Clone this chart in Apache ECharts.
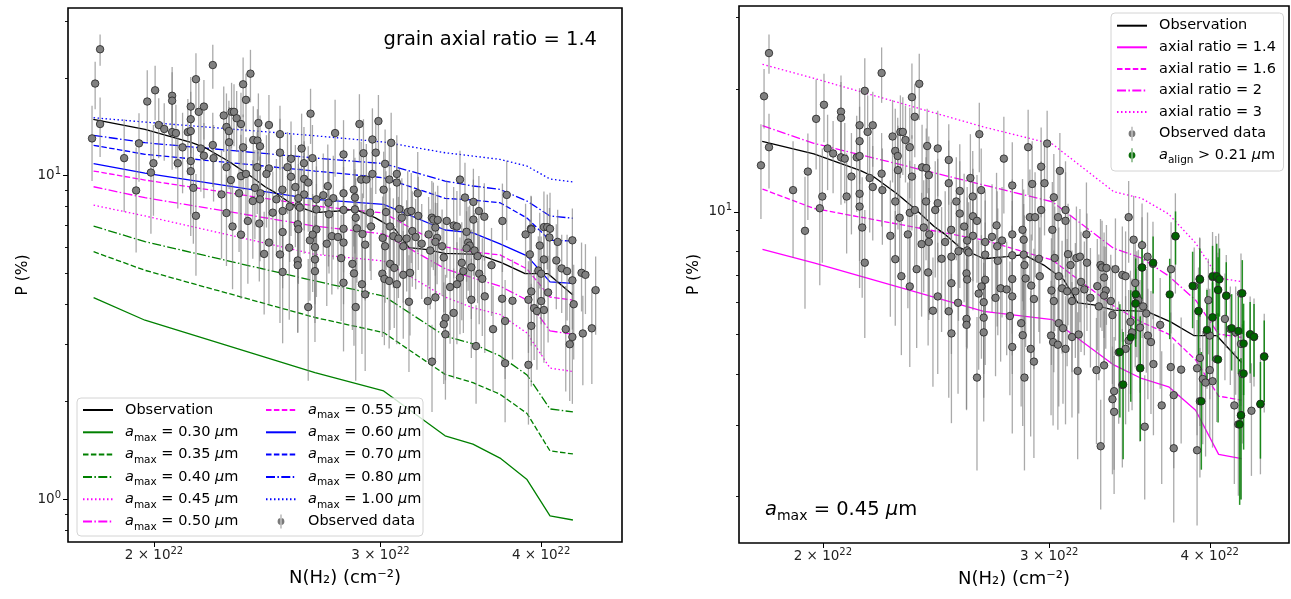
<!DOCTYPE html>
<html><head><meta charset="utf-8">
<script src="https://cdn.jsdelivr.net/npm/echarts@6/dist/echarts.min.js"></script>
<style>html,body{margin:0;padding:0;background:#fff}#chart{width:1291px;height:599px}</style>
</head><body><div id="chart"></div>
<script>
const FONT = 'DejaVu Sans';

// ---------- tick labels ----------
const xTickValues = [2, 3, 4];
const xTickLabels = ['2 × 10^22', '3 × 10^22', '4 × 10^22'];
const yMajorTicksL = [1, 10];
const yMajorLabelsL = ['10^0', '10^1'];
const yMinorTicksL = [0.8, 0.9, 2, 3, 4, 5, 6, 7, 8, 9, 20, 30];
const yMajorTicksR = [10];
const yMajorLabelsR = ['10^1'];
const yMinorTicksR = [2, 3, 4, 5, 6, 7, 8, 9, 20, 30];

// ---------- observation running curve (N in 1e22 cm^-2, P in %) ----------
const obsLineN = [1.794,1.968,2.140,2.192,2.284,2.367,2.440,2.485,2.561,2.668,2.780,2.867,2.971,3.080,3.158,3.250,3.368,3.573,3.729,3.887,4.050,4.234];
const obsLineP = [14.89,13.87,12.61,12.17,11.07,10.07,9.22,8.84,8.14,7.67,7.76,7.85,7.40,6.81,5.98,5.91,5.74,5.70,5.37,4.97,4.97,4.27];

// ---------- model curves ----------
const modelN = [1.795,1.968,2.668,3.017,3.368,3.540,3.716,3.900,4.064,4.234];
const amax030 = [4.19,3.57,2.46,2.16,1.57,1.48,1.34,1.15,0.888,0.863];
const amax035 = [5.81,5.09,3.64,3.27,2.43,2.29,2.11,1.84,1.41,1.38];
const amax040 = [6.97,6.24,4.72,4.24,3.19,3.02,2.77,2.42,1.90,1.86];
const amax045 = [8.09,7.49,5.70,5.44,4.21,3.90,3.72,3.26,2.54,2.48];
const amax050 = [9.22,8.53,6.97,6.59,5.15,4.82,4.55,4.12,3.31,3.23];
const amax055 = [10.31,9.67,8.04,7.65,6.01,5.80,5.68,5.14,4.21,4.12];
const amax060 = [10.86,10.16,8.43,8.14,6.78,6.64,6.14,5.64,4.69,4.64];
const amax070 = [12.38,11.61,10.31,9.83,8.49,8.39,8.23,7.38,6.30,6.27];
const amax080 = [13.29,12.61,11.31,10.87,9.60,9.27,9.05,8.33,7.49,7.37];
const amax100 = [15.06,14.60,13.25,12.67,11.74,11.47,11.20,10.68,9.74,9.54];
// right panel (a_max = 0.45 um) for different axial ratios
const axial14 = amax045;
const axial16 = [11.37,10.19,8.52,7.61,5.87,5.36,5.01,4.33,3.53,3.45];
const axial20 = [16.26,14.72,11.63,10.58,8.13,7.70,6.96,6.07,5.01,4.92];
const axial30 = [23.0,21.25,16.14,14.66,11.20,10.79,9.87,8.38,6.88,6.74];

// ---------- observed data: [N (1e22 cm^-2), P (%), error (%)] ----------
const observedPoints = [
[1.816,24.5,2.7],[1.80,19.2,3.2],[1.816,14.4,3.0],[1.79,13.0,3.4],[1.896,11.3,3.6],[1.947,12.55,3.0],
[1.937,8.98,3.2],[1.976,16.9,4.2],[2.004,18.3,3.5],[2.017,14.3,3.0],[2.037,13.9,2.8],[1.998,10.9,3.4],
[1.989,10.2,3.6],[2.066,17.6,4.0],[2.066,17.0,3.8],[2.066,13.6,3.2],[2.08,13.5,3.0],[2.087,10.9,3.0],
[2.105,12.2,3.4],[2.125,13.6,3.6],[2.136,16.3,3.8],[2.136,14.9,3.2],[2.136,11.07,3.5],[2.136,10.3,3.8],
[2.146,9.15,3.0],[2.136,13.7,3.0],[2.156,19.8,4.0],[2.167,15.7,3.6],[2.187,16.3,3.4],[2.175,12.1,3.2],
[2.187,11.5,3.0],[2.156,7.5,2.6],[2.222,21.9,3.4],[2.222,12.4,3.2],[2.225,11.3,3.0],[2.257,8.73,3.2],
[2.266,15.3,3.5],[2.277,14.1,3.8],[2.287,13.7,3.3],[2.298,15.7,3.6],[2.308,15.7,3.4],[2.319,15.0,3.2],
[2.337,14.4,3.6],[2.346,19.1,4.0],[2.358,17.1,3.5],[2.377,20.6,3.8],[2.288,12.65,3.6],[2.277,10.6,3.0],
[2.295,9.67,2.8],[2.329,8.8,3.0],[2.337,9.94,3.4],[2.358,10.1,3.0],[2.346,12.2,3.2],[2.389,12.85,3.5],
[2.407,12.8,3.2],[2.406,10.6,3.0],[2.396,9.15,2.8],[2.42,8.8,3.2],[2.418,8.43,3.0],[2.387,8.33,2.8],
[2.277,7.65,2.4],[2.366,7.23,2.6],[2.302,6.95,2.5],[2.415,7.1,2.4],[2.411,14.5,3.4],
[2.647,15.5,3.0],[2.457,14.3,3.4],[2.506,13.4,3.0],[2.418,12.3,3.0],[2.506,11.75,3.2],[2.605,12.1,3.4],
[2.656,11.3,3.0],[2.616,10.9,3.2],[2.556,11.25,3.4],[2.457,10.5,3.0],[2.446,10.1,3.2],[2.540,10.6,3.0],
[2.556,9.9,3.4],[2.617,9.75,3.0],[2.636,9.5,2.8],[2.576,9.2,3.2],[2.517,9.03,3.0],[2.617,8.73,3.0],
[2.49,8.43,2.8],[2.59,8.5,3.0],[2.73,9.26,3.2],[2.708,8.68,3.0],[2.675,8.43,2.8],[2.757,8.5,3.0],
[2.808,8.8,3.2],[2.86,9.03,3.0],[2.866,8.54,2.8],[2.766,13.5,3.6],[2.808,11.6,3.2],[2.889,14.4,3.4],
[2.989,14.7,3.0],[2.957,12.9,3.2],[3.058,12.6,3.0],[2.91,11.7,3.2],[2.975,11.75,3.0],[2.898,9.7,3.0],
[2.957,10.1,3.2],[2.925,9.7,2.8],[3.025,10.85,3.0],[3.089,10.1,3.2],[3.048,9.7,2.8],[3.089,9.5,3.0],
[3.017,9.03,2.8],[3.207,8.8,3.0],[2.59,8.04,2.8],[2.597,7.95,2.6],[2.474,7.67,2.6],[2.518,7.76,2.8],
[2.55,8.0,2.6],[2.675,7.85,2.8],[2.733,8.23,3.0],[2.808,7.82,2.8],[2.866,7.85,2.6],[2.736,7.58,2.6],
[2.87,7.4,2.4],[2.945,7.67,2.6],[2.808,6.84,2.4],[2.675,6.81,2.6],[2.587,7.06,2.4],[3.03,7.7,2.6],
[3.117,7.4,2.4],[3.15,7.7,2.6],[3.17,7.76,2.4],[3.103,7.87,2.6],[3.21,7.5,2.4],[3.289,7.4,2.2],
[3.459,9.7,2.2],[3.49,8.54,2.4],[3.543,8.28,2.2],[3.761,8.7,2.4],[3.578,7.76,2.2],[3.613,7.45,2.0],
[3.543,7.3,2.4],[3.732,7.23,2.2],[3.298,7.3,2.2],[3.324,7.28,2.0],[3.378,7.23,2.4],[3.42,7.0,2.2],
[3.44,6.95,2.0],[3.928,6.85,1.8],[4.02,6.92,2.0],[4.044,6.92,1.8],[4.064,6.84,2.0],
[3.31,6.9,2.0],[3.27,6.57,2.0],[3.32,6.41,1.8],[3.31,6.23,2.0],[3.35,6.04,1.8],[3.279,5.86,2.0],
[3.36,5.58,1.8],[3.50,6.69,2.0],[3.51,6.2,1.8],[3.52,6.07,2.0],[3.50,5.95,1.8],[3.55,5.86,1.8],
[3.57,5.63,1.6],[3.47,5.37,1.8],[3.53,5.2,1.6],[3.48,5.06,1.8],[3.459,4.83,1.6],[3.44,4.61,1.6],
[3.398,4.52,1.5],[3.58,4.97,1.5],[3.60,4.79,1.6],[3.66,5.28,1.6],[3.616,4.23,1.4],[3.53,4.13,1.4],
[3.73,4.16,1.5],[3.80,4.1,1.4],[3.265,4.09,1.4],[3.31,4.2,1.5],[3.42,3.76,1.4],[3.37,3.63,1.3],
[3.36,3.47,1.2],[3.37,3.23,1.2],[3.75,3.55,1.2],[3.67,3.35,1.2],[3.56,2.97,1.0],[3.29,2.66,0.8],
[3.75,2.63,0.9],[3.91,2.6,0.9],[3.89,6.57,1.6],[3.93,6.81,1.8],[3.99,6.07,1.6],[3.92,5.70,1.6],
[4.02,5.5,1.5],[4.11,5.46,1.6],[3.98,5.08,1.4],[4.0,4.97,1.5],[4.15,5.16,1.4],[4.19,5.06,1.5],
[4.23,6.3,1.6],[4.12,6.23,1.6],[4.06,6.43,1.5],[4.23,4.74,1.4],[4.30,5.0,1.2],[4.33,4.93,1.2],
[4.41,4.42,1.2],[4.05,4.35,1.3],[3.93,4.38,1.4],[4.0,4.09,1.3],[4.02,3.84,1.2],[3.91,4.13,1.3],
[3.95,3.89,1.2],[3.97,3.81,1.3],[3.93,3.43,1.2],[4.18,3.35,1.2],[4.23,3.17,1.2],[4.21,3.01,1.0],
[4.31,3.25,1.0],[4.38,3.37,1.1],[4.24,4.0,1.3],
[2.457,6.2,2.2],[2.436,5.72,2.0],[2.506,5.7,2.2],[2.548,5.98,2.4],[2.518,6.68,2.2],[2.518,5.03,2.0],
[2.587,5.46,2.2],[2.587,5.28,2.0],[2.59,6.82,2.2],[2.644,6.3,2.2],[2.668,6.0,2.0],[2.668,5.5,2.0],
[2.668,5.06,2.0],[2.657,6.56,2.2],[2.725,6.15,2.2],[2.75,6.49,2.2],[2.78,6.45,2.0],[2.808,6.2,2.2],
[2.796,5.55,2.0],[2.853,5.33,2.0],[2.861,4.98,2.0],[2.808,4.66,1.8],[2.876,6.86,2.2],[2.905,6.59,2.2],
[2.919,6.11,2.0],[2.902,4.61,1.8],[2.919,4.29,1.8],[2.87,3.92,1.6],[2.636,3.92,1.6],[2.95,6.95,2.2],
[3.012,6.41,2.2],[3.025,6.04,2.0],[3.052,6.95,2.2],[3.07,6.49,2.0],[3.098,6.38,2.2],[3.144,6.38,2.0],
[3.125,6.04,2.0],[3.176,6.73,2.2],[3.195,6.45,2.0],[3.23,6.15,2.0],[3.052,5.33,2.0],[3.075,5.18,1.8],
[3.01,4.97,1.8],[3.021,4.79,1.8],[3.047,4.72,1.8],[3.089,4.61,1.6],[3.125,4.93,1.8],[3.163,5.0,1.8],
[3.157,4.07,1.6],[2.337,6.56,2.4]
];

// ---------- grains with a_align > 0.21 um: [N, P, error] ----------
const alignedPoints = [
[3.762,8.72,1.3],[3.543,7.30,1.2],[3.614,7.50,1.2],[3.503,6.28,1.4],[3.503,5.96,1.3],[3.472,4.92,1.5],
[3.405,4.53,1.4],[3.425,3.77,1.3],[3.532,4.14,1.4],[3.723,6.27,1.4],[3.879,6.58,1.4],[3.93,6.83,1.3],
[3.92,5.71,1.3],[4.02,5.51,1.2],[3.98,5.13,1.3],[4.02,6.95,1.3],[4.05,6.95,1.4],[4.07,6.83,1.3],
[4.06,6.43,1.3],[4.12,6.22,1.3],[4.16,5.18,1.1],[4.21,5.10,1.1],[4.24,6.31,1.3],[4.25,4.75,1.2],
[4.25,4.01,1.4],[4.06,4.34,1.3],[3.94,3.43,1.1],[4.23,3.17,1.2],[4.22,3.01,1.1],[4.30,5.01,1.0],
[4.33,4.94,1.0],[4.41,4.41,1.0],[4.38,3.38,0.9]
];

// ---------- helpers ----------
const DASH = { solid: 'solid', dashed: [5.5, 2.4], dashdot: [9, 2.4, 1.5, 2.4], dotted: [1.5, 2.5] };
function pairs(xs, ys) { return xs.map((x, i) => [x, ys[i]]); }
function lineSeries(name, xs, ys, color, dash, xi, yi) {
  return { name, type: 'line', xAxisIndex: xi, yAxisIndex: yi, data: pairs(xs, ys),
    symbol: 'none', showSymbol: false, z: 2, silent: true,
    lineStyle: { color, width: 1.3, type: DASH[dash] }, itemStyle: { color } };
}
function errorSeries(name, data, color, width, xi, yi) {
  return { name, type: 'custom', xAxisIndex: xi, yAxisIndex: yi, data, clip: true, z: 3, silent: true,
    encode: { x: 0, y: 1 },
    renderItem: function (params, api) {
      const n = api.value(0), p = api.value(1), e = api.value(2);
      const lo = p - e > 0 ? p - e : 0.01;
      const a = api.coord([n, p + e]);
      const b = api.coord([n, lo]);
      return { type: 'line', shape: { x1: a[0], y1: a[1], x2: b[0], y2: b[1] },
        style: { stroke: color, lineWidth: width } };
    } };
}
function scatterSeries(name, data, color, xi, yi) {
  return { name, type: 'scatter', xAxisIndex: xi, yAxisIndex: yi, data, symbol: 'circle', symbolSize: 7.5,
    z: 4, silent: true, itemStyle: { color, borderColor: '#222', borderWidth: 0.8, opacity: 1 } };
}
function richStyles(lh, fs, subFs, subLh) {
  return {
    n: { fontFamily: FONT, fontSize: fs, color: '#000', lineHeight: lh },
    it: { fontFamily: FONT, fontSize: fs, fontStyle: 'italic', color: '#000', lineHeight: lh },
    sub: { fontFamily: FONT, fontSize: subFs, color: '#000', lineHeight: subLh, verticalAlign: 'bottom' }
  };
}
function mathName(name) {
  const m = name.match(/^a_(\w+) ([=>]) ([\d.]+) μm$/);
  if (m) return '{it|a}{sub|' + m[1] + '}{n| ' + m[2] + ' ' + m[3] + ' }{it|μ}{n|m}';
  return '{n|' + name + '}';
}
function supLabel(s) { const parts = s.split('^'); return '{n|' + parts[0] + '}{sup|' + parts[1] + '}'; }
const TICK_RICH = {
  n: { fontFamily: FONT, fontSize: 13.5, color: '#222', lineHeight: 18 },
  sup: { fontFamily: FONT, fontSize: 10, color: '#222', lineHeight: 10, verticalAlign: 'top' }
};
const ERR_ICON = 'path://M14.6,0L15.4,0L15.4,14L14.6,14Z M11.6,7A3.4,3.4 0 1,0 18.4,7A3.4,3.4 0 1,0 11.6,7Z M0,0L0.01,0L0.01,0.01Z M30,14L29.99,14L29.99,13.99Z';

function xAxisCfg(grid, min, max) {
  return { type: 'log', logBase: 10, gridIndex: grid, min, max,
    axisLine: { show: false }, splitLine: { show: false },
    axisTick: { show: true, customValues: xTickValues, length: 5, lineStyle: { color: '#000', width: 1 } },
    axisLabel: { show: true, customValues: xTickValues, margin: 4, rich: TICK_RICH,
      formatter: v => { const i = xTickValues.findIndex(t => Math.abs(t - v) < 1e-6); return i >= 0 ? supLabel(xTickLabels[i]) : ''; } },
    name: 'N(H₂) (cm⁻²)', nameLocation: 'middle', nameGap: 27,
    nameTextStyle: { fontFamily: FONT, fontSize: 18, color: '#000' } };
}
function yMajorCfg(grid, min, max, ticks, labels) {
  return { type: 'log', logBase: 10, gridIndex: grid, min, max, position: 'left',
    axisLine: { show: false }, splitLine: { show: false },
    axisTick: { show: true, customValues: ticks, length: 5, lineStyle: { color: '#000', width: 1 } },
    axisLabel: { show: true, customValues: ticks, margin: 7, rich: TICK_RICH,
      formatter: v => { const i = ticks.findIndex(t => Math.abs(t - v) < 1e-6); return i >= 0 ? supLabel(labels[i]) : ''; } },
    name: 'P (%)', nameLocation: 'middle', nameGap: 37, nameRotate: 90,
    nameTextStyle: { fontFamily: FONT, fontSize: 15.5, color: '#000' } };
}
function yMinorCfg(grid, min, max, ticks) {
  return { type: 'log', logBase: 10, gridIndex: grid, min, max, position: 'left',
    axisLine: { show: false }, splitLine: { show: false },
    axisTick: { show: true, customValues: ticks, length: 3, lineStyle: { color: '#000', width: 0.9 } },
    axisLabel: { show: false } };
}
function legendCfg(left, firstRowCenter, rowH, names) {
  return { left, top: firstRowCenter - rowH / 2, orient: 'vertical', padding: 0, itemGap: 0,
    itemWidth: 30, itemHeight: 14, z: 6, selectedMode: false, formatter: mathName,
    itemStyle: { opacity: 0 },
    textStyle: { padding: [0, 0, 0, 7], height: rowH, lineHeight: rowH, rich: richStyles(rowH, 14.5, 10.5, 12) },
    data: names };
}
const obsIcon = { name: 'Observed data', icon: ERR_ICON, itemStyle: { color: '#7a7a7a', opacity: 1, borderWidth: 0 } };
const alignIcon = { name: 'a_align > 0.21 μm', icon: ERR_ICON, itemStyle: { color: '#0a6e0a', opacity: 1, borderWidth: 0 } };

const option = {
  animation: false,
  textStyle: { fontFamily: FONT },
  grid: [
    { left: 68, top: 8, width: 554, height: 534, show: true, borderColor: '#000', borderWidth: 1.6, backgroundColor: 'transparent' },
    { left: 739, top: 6, width: 550, height: 537, show: true, borderColor: '#000', borderWidth: 1.6, backgroundColor: 'transparent' }
  ],
  xAxis: [ xAxisCfg(0, 1.7146, 4.623), xAxisCfg(1, 1.721, 4.610) ],
  yAxis: [
    yMajorCfg(0, 0.738, 32.85, yMajorTicksL, yMajorLabelsL),
    yMinorCfg(0, 0.738, 32.85, yMinorTicksL),
    yMajorCfg(1, 1.54, 31.97, yMajorTicksR, yMajorLabelsR),
    yMinorCfg(1, 1.54, 31.97, yMinorTicksR)
  ],
  legend: [
    legendCfg(82, 410, 22.3, ['Observation', 'a_max = 0.30 μm', 'a_max = 0.35 μm', 'a_max = 0.40 μm', 'a_max = 0.45 μm', 'a_max = 0.50 μm']),
    legendCfg(265, 410, 22.3, ['a_max = 0.55 μm', 'a_max = 0.60 μm', 'a_max = 0.70 μm', 'a_max = 0.80 μm', 'a_max = 1.00 μm', obsIcon]),
    legendCfg(1116, 25.7, 21.6, ['Observation', 'axial ratio = 1.4', 'axial ratio = 1.6', 'axial ratio = 2', 'axial ratio = 3', obsIcon, alignIcon])
  ],
  graphic: [
    { type: 'rect', z: 5, silent: true, shape: { x: 77, y: 398, width: 346, height: 138, r: 4 },
      style: { fill: 'rgba(255,255,255,0.8)', stroke: '#d4d4d4', lineWidth: 1 } },
    { type: 'rect', z: 5, silent: true, shape: { x: 1111, y: 13, width: 172.5, height: 158, r: 4 },
      style: { fill: 'rgba(255,255,255,0.8)', stroke: '#d4d4d4', lineWidth: 1 } },
    { type: 'text', z: 6, silent: true,
      style: { text: 'grain axial ratio = 1.4', x: 597, y: 40, align: 'right', verticalAlign: 'middle',
        fontFamily: FONT, fontSize: 19.5, fill: '#000' } },
    { type: 'text', z: 6, silent: true,
      style: { text: mathName('a_max = 0.45 μm'), x: 765, y: 510, align: 'left', verticalAlign: 'middle',
        fontFamily: FONT, fontSize: 19.5, fill: '#000', rich: richStyles(26, 19.5, 14, 16) } }
  ],
  series: [
    // left panel
    lineSeries('a_max = 0.30 μm', modelN, amax030, '#008000', 'solid', 0, 0),
    lineSeries('a_max = 0.35 μm', modelN, amax035, '#008000', 'dashed', 0, 0),
    lineSeries('a_max = 0.40 μm', modelN, amax040, '#008000', 'dashdot', 0, 0),
    lineSeries('a_max = 0.45 μm', modelN, amax045, '#ff00ff', 'dotted', 0, 0),
    lineSeries('a_max = 0.50 μm', modelN, amax050, '#ff00ff', 'dashdot', 0, 0),
    lineSeries('a_max = 0.55 μm', modelN, amax055, '#ff00ff', 'dashed', 0, 0),
    lineSeries('a_max = 0.60 μm', modelN, amax060, '#0000ff', 'solid', 0, 0),
    lineSeries('a_max = 0.70 μm', modelN, amax070, '#0000ff', 'dashed', 0, 0),
    lineSeries('a_max = 0.80 μm', modelN, amax080, '#0000ff', 'dashdot', 0, 0),
    lineSeries('a_max = 1.00 μm', modelN, amax100, '#0000ff', 'dotted', 0, 0),
    lineSeries('Observation', obsLineN, obsLineP, '#000000', 'solid', 0, 0),
    errorSeries('obs-err-left', observedPoints, 'rgba(125,125,125,0.65)', 1.3, 0, 0),
    scatterSeries('Observed data', observedPoints, '#808080', 0, 0),
    // right panel
    lineSeries('axial ratio = 1.4', modelN, axial14, '#ff00ff', 'solid', 1, 2),
    lineSeries('axial ratio = 1.6', modelN, axial16, '#ff00ff', 'dashed', 1, 2),
    lineSeries('axial ratio = 2', modelN, axial20, '#ff00ff', 'dashdot', 1, 2),
    lineSeries('axial ratio = 3', modelN, axial30, '#ff00ff', 'dotted', 1, 2),
    lineSeries('Observation', obsLineN, obsLineP, '#000000', 'solid', 1, 2),
    errorSeries('obs-err-right', observedPoints, 'rgba(125,125,125,0.65)', 1.3, 1, 2),
    scatterSeries('Observed data', observedPoints, '#808080', 1, 2),
    errorSeries('align-err', alignedPoints, 'rgba(0,128,0,0.85)', 1.5, 1, 2),
    scatterSeries('a_align > 0.21 μm', alignedPoints, '#006400', 1, 2)
  ]
};
const chart = echarts.init(document.getElementById('chart'), null, { renderer: 'canvas' });
chart.setOption(option);
</script></body></html>
